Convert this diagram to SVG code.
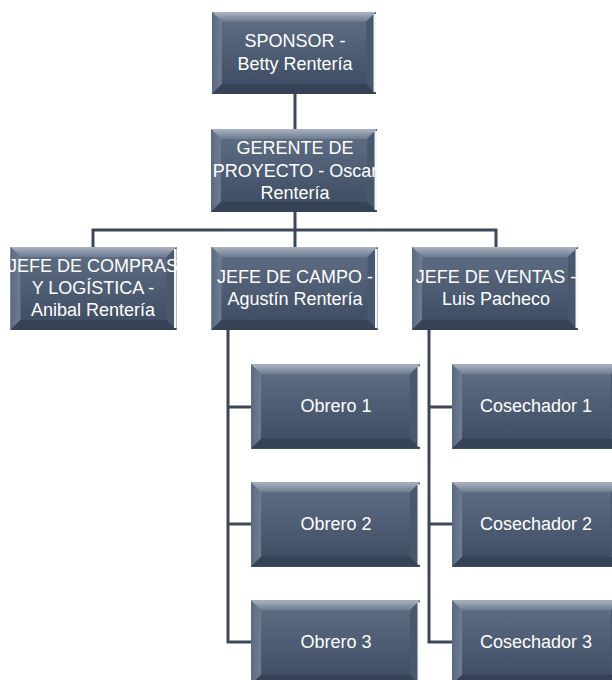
<svg xmlns="http://www.w3.org/2000/svg" xmlns:xlink="http://www.w3.org/1999/xlink" width="612" height="680" viewBox="0 0 612 680">
  <style>
    .lbl { font-family: "Liberation Sans", Arial, sans-serif; font-size: 18px; fill: #ffffff; text-anchor: middle; }
    .conn { stroke: #3c475a; stroke-width: 3; fill: none; }
  </style>
  <defs>
    <linearGradient id="face" x1="0" y1="0" x2="0" y2="1">
      <stop offset="0" stop-color="#617086"/>
      <stop offset="1" stop-color="#3b4a60"/>
    </linearGradient>
    <linearGradient id="topBevel" x1="0" y1="0" x2="0" y2="1">
      <stop offset="0" stop-color="#aab4c2"/>
      <stop offset="1" stop-color="#6d7b90"/>
    </linearGradient>
    <linearGradient id="leftBevel" x1="0" y1="0" x2="1" y2="0">
      <stop offset="0" stop-color="#5c6a80"/>
      <stop offset="1" stop-color="#6f7d92"/>
    </linearGradient>
    <!-- bevelled button shape, 168 x 84 -->
    <symbol id="box" viewBox="0 0 168 84" overflow="visible">
      <rect x="0" y="0" width="168" height="84" fill="url(#face)"/>
      <polygon points="0,0 168,0 158,10 10,10" fill="url(#topBevel)"/>
      <polygon points="0,0 10,10 10,74 0,84" fill="url(#leftBevel)"/>
      <polygon points="168,0 168,84 158,74 158,10" fill="#4a586d"/>
      <polygon points="0,84 10,74 158,74 168,84" fill="#364357"/>
      <rect x="165.5" y="2" width="2.5" height="80" fill="#f4f6f8"/>
    </symbol>
  </defs>

  <rect width="612" height="680" fill="#ffffff"/>

  <g id="connectors">
    <line class="conn" x1="295" y1="94" x2="295" y2="129"/>
    <polyline class="conn" points="295,212 295,247"/>
    <polyline class="conn" points="93,247 93,230 496,230 496,247"/>
    <polyline class="conn" points="228,330 228,642 251,642"/>
    <line class="conn" x1="228" y1="407" x2="251" y2="407"/>
    <line class="conn" x1="228" y1="524" x2="251" y2="524"/>
    <polyline class="conn" points="429,330 429,642 452,642"/>
    <line class="conn" x1="429" y1="407" x2="452" y2="407"/>
    <line class="conn" x1="429" y1="524" x2="452" y2="524"/>
  </g>

  <g id="sponsor">
    <use xlink:href="#box" x="210" y="12" width="168" height="82"/>
    <text class="lbl" x="295" y="47">SPONSOR  -</text>
    <text class="lbl" x="295" y="70">Betty Rentería</text>
  </g>

  <g id="gerente">
    <use xlink:href="#box" x="210" y="129" width="168" height="83"/>
    <text class="lbl" x="295" y="154">GERENTE DE</text>
    <text class="lbl" x="295" y="177">PROYECTO - Oscar</text>
    <text class="lbl" x="295" y="199">Rentería</text>
  </g>

  <g id="jefe-compras">
    <use xlink:href="#box" x="9" y="247" width="169" height="83"/>
    <text class="lbl" x="93" y="272">JEFE DE COMPRAS</text>
    <text class="lbl" x="93" y="294">Y LOGÍSTICA -</text>
    <text class="lbl" x="93" y="316">Anibal Rentería</text>
  </g>

  <g id="jefe-campo">
    <use xlink:href="#box" x="210" y="247" width="169" height="83"/>
    <text class="lbl" x="295" y="283">JEFE DE CAMPO -</text>
    <text class="lbl" x="295" y="305">Agustín Rentería</text>
  </g>

  <g id="jefe-ventas">
    <use xlink:href="#box" x="411" y="247" width="168" height="83"/>
    <text class="lbl" x="496" y="283">JEFE DE VENTAS -</text>
    <text class="lbl" x="496" y="305">Luis Pacheco</text>
  </g>

  <g id="obrero-1">
    <use xlink:href="#box" x="251" y="364" width="169" height="85"/>
    <text class="lbl" x="336" y="412">Obrero 1</text>
  </g>
  <g id="obrero-2">
    <use xlink:href="#box" x="251" y="482" width="169" height="85"/>
    <text class="lbl" x="336" y="530">Obrero 2</text>
  </g>
  <g id="obrero-3">
    <use xlink:href="#box" x="251" y="600" width="169" height="85"/>
    <text class="lbl" x="336" y="648">Obrero 3</text>
  </g>

  <g id="cosechador-1">
    <use xlink:href="#box" x="452" y="364" width="169" height="85"/>
    <text class="lbl" x="536" y="412">Cosechador 1</text>
  </g>
  <g id="cosechador-2">
    <use xlink:href="#box" x="452" y="482" width="169" height="85"/>
    <text class="lbl" x="536" y="530">Cosechador 2</text>
  </g>
  <g id="cosechador-3">
    <use xlink:href="#box" x="452" y="600" width="169" height="85"/>
    <text class="lbl" x="536" y="648">Cosechador 3</text>
  </g>
</svg>
